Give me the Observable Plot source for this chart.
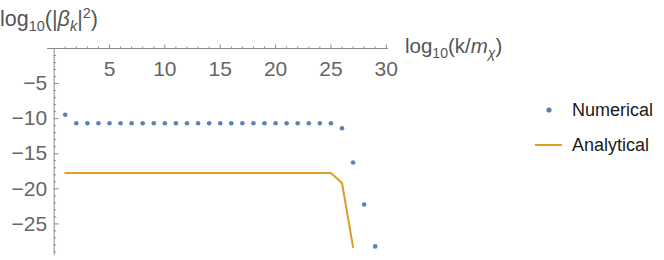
<!DOCTYPE html>
<html><head><meta charset="utf-8">
<script src="https://cdn.jsdelivr.net/npm/d3@7"></script>
<script src="https://cdn.jsdelivr.net/npm/@observablehq/plot@0.6"></script>
<style>body{margin:0;background:#fff} svg{display:block}</style>
</head><body><div id="chart"></div>
<script>
// ---- data ----
const numericalK = [1,2,3,4,5,6,7,8,9,10,11,12,13,14,15,16,17,18,19,20,21,22,23,24,25,26,27,28,29];
const numericalLogBeta = [-9.45,-10.65,-10.65,-10.65,-10.65,-10.65,-10.65,-10.65,-10.65,-10.65,-10.65,-10.65,-10.65,-10.65,-10.65,-10.65,-10.65,-10.65,-10.65,-10.65,-10.65,-10.65,-10.65,-10.65,-10.65,-11.36,-16.25,-22.23,-28.2];
const analyticalK = [1,2,3,4,5,6,7,8,9,10,11,12,13,14,15,16,17,18,19,20,21,22,23,24,25,26,27];
const analyticalLogBeta = [-17.74,-17.74,-17.74,-17.74,-17.74,-17.74,-17.74,-17.74,-17.74,-17.74,-17.74,-17.74,-17.74,-17.74,-17.74,-17.74,-17.74,-17.74,-17.74,-17.74,-17.74,-17.74,-17.74,-17.74,-17.74,-19.17,-28.3];
const xMajorTicks = [5,10,15,20,25,30];
const xMinorTicks = [1,2,3,4,6,7,8,9,11,12,13,14,16,17,18,19,21,22,23,24,26,27,28,29];
const yMajorTicks = [-5,-10,-15,-20,-25];
const yMinorTicks = [-1,-2,-3,-4,-6,-7,-8,-9,-11,-12,-13,-14,-16,-17,-18,-19,-21,-22,-23,-24,-26,-27,-28,-29];
const seriesNames = ["Numerical","Analytical"];
const seriesColors = ["#5E81B5","#E19C24"];
const xDomain = [-0.6, 30.2];
const yDomain = [-29.5, 0];

const numerical = numericalK.map((k,i)=>({k, v: numericalLogBeta[i]}));
const analytical = analyticalK.map((k,i)=>({k, v: analyticalLogBeta[i]}));
const font = '"Liberation Sans", Arial, Helvetica, sans-serif';
const axisColor = "#8c8c8c";
const tickLabelColor = "#666";
const fmt = d => d < 0 ? "\u2212" + (-d) : String(d);

const plot = Plot.plot({
  width: 664, height: 260,
  marginLeft: 47, marginRight: 276, marginTop: 48, marginBottom: 5,
  x: {domain: xDomain},
  y: {domain: yDomain, axis: null},
  style: {fontFamily: font, background: "white", overflow: "visible"},
  marks: [
    Plot.ruleY([0], {stroke: axisColor}),
    Plot.ruleX([0], {stroke: axisColor}),
    Plot.axisX(xMinorTicks, {anchor: "top", tickSize: 2.5, fill: "none", stroke: axisColor, label: null}),
    Plot.axisX(xMajorTicks, {anchor: "top", tickSize: 4.5, fill: "none", stroke: axisColor, label: null}),
    Plot.ruleY(yMinorTicks, {y: d => d, x1: 0, x2: 0, insetRight: -2.5, stroke: axisColor}),
    Plot.ruleY(yMajorTicks, {y: d => d, x1: 0, x2: 0, insetRight: -5, stroke: axisColor}),
    Plot.text(xMajorTicks, {x: d => d, y: 0, dy: 21, text: fmt, fontSize: 21, fill: tickLabelColor}),
    Plot.text(yMajorTicks, {x: 0, y: d => d, dx: -7, textAnchor: "end", text: fmt, fontSize: 21, fill: tickLabelColor}),
    Plot.line(analytical, {x: "k", y: "v", stroke: seriesColors[1], strokeWidth: 2}),
    Plot.dot(numerical, {x: "k", y: "v", r: 2.3, fill: seriesColors[0]})
  ]
});
document.getElementById("chart").appendChild(plot);

const svg = d3.select(plot);
// y axis label
const yl = svg.append("text").attr("x", 0).attr("y", 26).attr("text-anchor", "start").attr("font-size", 21.5).attr("fill", "#555").attr("font-family", font);
yl.append("tspan").text("log");
yl.append("tspan").attr("font-size", 14.5).attr("dy", 5).text("10");
yl.append("tspan").attr("dy", -5).text("(|");
yl.append("tspan").attr("font-style", "italic").text("β");
yl.append("tspan").attr("font-style", "italic").attr("font-size", 14.5).attr("dy", 5).text("k");
yl.append("tspan").attr("dy", -5).text("|");
yl.append("tspan").attr("font-size", 14.5).attr("dy", -8).text("2");
yl.append("tspan").attr("dy", 8).text(")");
// x axis label
const xl = svg.append("text").attr("x", 405).attr("y", 53).attr("text-anchor", "start").attr("font-size", 20.5).attr("fill", "#555").attr("font-family", font);
xl.append("tspan").text("log");
xl.append("tspan").attr("font-size", 14).attr("dy", 5).text("10");
xl.append("tspan").attr("dy", -5).text("(k/");
xl.append("tspan").attr("font-style", "italic").text("m");
xl.append("tspan").attr("font-style", "italic").attr("font-size", 14).attr("dy", 5).text("χ");
xl.append("tspan").attr("dy", -5).text(")");
// legend
const lg = svg.append("g").attr("font-family", font).attr("font-size", 18).attr("fill", "#1a1a1a").attr("text-anchor", "start");
lg.append("circle").attr("cx", 549).attr("cy", 110).attr("r", 2.6).attr("fill", seriesColors[0]);
lg.append("text").attr("x", 572).attr("y", 110).attr("dy", "0.35em").text(seriesNames[0]);
lg.append("line").attr("x1", 535).attr("x2", 562).attr("y1", 145).attr("y2", 145).attr("stroke", seriesColors[1]).attr("stroke-width", 2);
lg.append("text").attr("x", 572).attr("y", 145).attr("dy", "0.35em").text(seriesNames[1]);
</script>
</body></html>
